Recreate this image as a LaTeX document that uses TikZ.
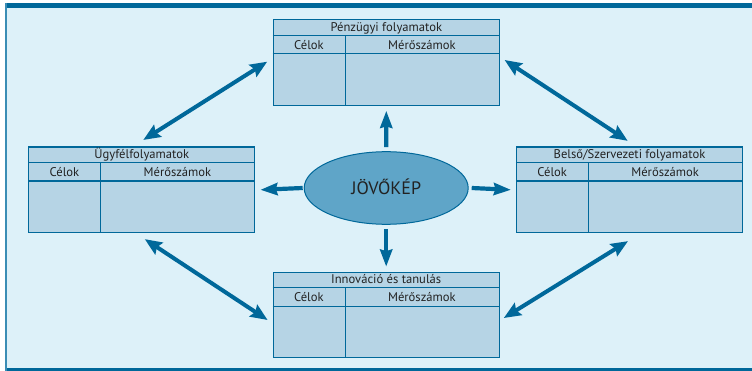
\documentclass[tikz,border=0pt]{standalone}
\usepackage{fontspec}
\setmainfont{PT Sans}
\usetikzlibrary{arrows.meta,calc,shapes.geometric}
\definecolor{bg}{HTML}{DDF1F9}
\definecolor{dblue}{HTML}{00689A}
\definecolor{edgeblue}{HTML}{3A8DB5}
\definecolor{boxfill}{HTML}{B6D4E5}
\definecolor{ellfill}{HTML}{5FA5C8}
\definecolor{txt}{HTML}{222222}
\newcommand\mypanel[3]{%
  \node[panel] (#1) at (#2) {};
  \draw[rule] ($(#1.north west)+(0,16)$) -- ($(#1.north east)+(0,16)$);
  \draw[rule] ($(#1.north west)+(0,34.5)$) -- ($(#1.north east)+(0,34.5)$);
  \draw[rule] ($(#1.north west)+(72.5,16)$) -- ($(#1.south west)+(72.5,0)$);
  \node[lbl] (#1-t) at ($(#1.north)+(0,12.3)$) {#3};
  \node[lbl] (#1-c) at ($(#1.north west)+(36.25,30)$) {Célok};
  \node[lbl] (#1-m) at ($(#1.north west)+(149.25,30)$) {Mérőszámok};
}
\begin{document}
\begin{tikzpicture}[x=1pt,y=-1pt,
  panel/.style={draw=dblue,line width=1.2pt,fill=boxfill,minimum width=226pt,minimum height=85.5pt,inner sep=0pt},
  rule/.style={draw=dblue,line width=1.2pt},
  lbl/.style={text=txt,font=\fontsize{12.6}{13}\selectfont,inner sep=0pt,anchor=base},
  bigarrow/.style={draw=dblue,line width=4pt,{Stealth[length=17pt,width=14pt,inset=2.5pt]}-{Stealth[length=17pt,width=14pt,inset=2.5pt]}},
  shortarrow/.style={draw=dblue,line width=4.2pt,-{Stealth[length=17pt,width=12pt,inset=1.5pt]}}
]
\useasboundingbox (0,0) rectangle (752,371);
\fill[bg] (5,8) rectangle (752,368);
\fill[dblue] (5,3) rectangle (752,8.3);
\fill[dblue] (5,368) rectangle (752,371);
\fill[edgeblue] (5,3) rectangle (6.7,371);

\mypanel{top}{386.3,62.5}{Pénzügyi folyamatok}
\mypanel{left}{141.8,189.8}{Ügyfélfolyamatok}
\mypanel{right}{629.5,189.8}{Belső/Szervezeti folyamatok}
\mypanel{bottom}{386.2,315}{Innováció és tanulás}

\node[ellipse,draw=dblue,line width=1pt,fill=ellfill,minimum width=164pt,minimum height=72.6pt,inner sep=0pt] (ell) at (386.2,188) {};
\node[text=txt,font=\fontsize{18}{19}\selectfont,inner sep=0pt,anchor=base] (ell-t) at ($(ell.center)+(0,7)$) {JÖVŐKÉP};

\draw[shortarrow] ($(ell.north)+(0,-4)$) -- ($(top.south)+(0,5)$);
\draw[shortarrow] ($(ell.south)+(0,4)$) -- ($(bottom.north)+(0,-5)$);
\draw[shortarrow] ($(ell.west)+(-1,0)$) -- ($(left.east)+(5,0)$);
\draw[shortarrow] ($(ell.east)+(3,0)$) -- ($(right.west)+(-5,0)$);

\draw[bigarrow] ($(left.north)+(1.5,-6.5)$) -- ($(top.west)+(-5.5,-0.8)$);
\draw[bigarrow] ($(top.east)+(4.7,-2.5)$) -- ($(right.north)+(-1.8,-5.6)$);
\draw[bigarrow] ($(left.south)+(3,6)$) -- ($(bottom.west)+(-5,5)$);
\draw[bigarrow] ($(right.south)+(-1.5,8)$) -- ($(bottom.east)+(4,3)$);
\end{tikzpicture}
\end{document}
